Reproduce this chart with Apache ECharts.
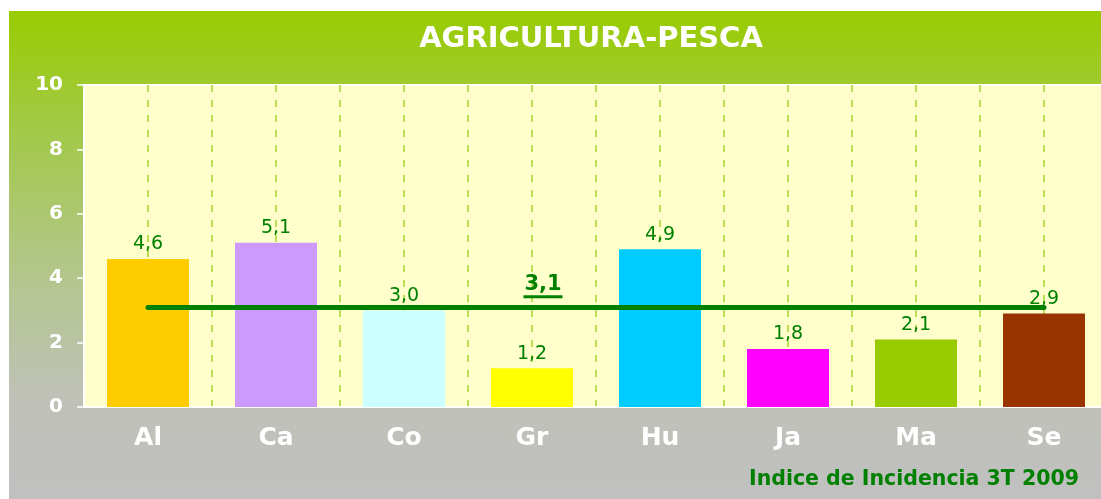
<!DOCTYPE html>
<html lang="es">
<head>
<meta charset="utf-8">
<title>Agricultura-Pesca</title>
<script src="https://cdn.jsdelivr.net/npm/echarts@6/dist/echarts.min.js"></script>
<style>
  html, body { margin: 0; padding: 0; background: #fff; overflow: hidden; }
  /* el grafico original sigue algo mas alla del borde derecho */
  #main {
    position: absolute;
    left: 9px;
    top: 11px;
    width: 1099px;
    height: 488px;
    background: linear-gradient(to bottom, #99cc00 0%, #a2c94a 25%, #b4c68e 55%, #bfc1b8 80%, #c0c0c0 100%);
  }
</style>
</head>
<body>
<div id="main"></div>
<script>
  // datos
  var categories = ['Al', 'Ca', 'Co', 'Gr', 'Hu', 'Ja', 'Ma', 'Se'];
  var values = [4.6, 5.1, 3.0, 1.2, 4.9, 1.8, 2.1, 2.9];
  var barColors = ['#ffcc00', '#cc99ff', '#ccffff', '#ffff00', '#00ccff', '#ff00ff', '#99cc00', '#993300'];
  var average = 3.1;
  var averageAt = 'Gr';
  var yTicks = { min: 0, max: 10, interval: 2 };

  function fmt(v) {
    return v.toFixed(1).replace('.', ',');
  }

  var green = '#008000';
  var chart = echarts.init(document.getElementById('main'), null, { renderer: 'canvas' });

  var option = {
    animation: false,
    title: [
      {
        text: 'AGRICULTURA-PESCA',
        left: 577,
        textAlign: 'center',
        top: 9,
        textStyle: { color: '#fff', fontSize: 29, fontWeight: 'bold', fontFamily: 'DejaVu Sans' }
      },
      {
        text: 'Indice de Incidencia 3T 2009',
        right: 24,
        bottom: 4,
        textStyle: { color: green, fontSize: 20.5, fontWeight: 'bold', fontFamily: 'DejaVu Sans' }
      }
    ],
    grid: {
      left: 75,
      top: 74,
      width: 1024,
      height: 322,
      show: true,
      backgroundColor: '#ffffcc',
      borderColor: '#ffffff',
      borderWidth: 2
    },
    xAxis: [
      {
        type: 'category',
        data: categories,
        axisLine: { lineStyle: { color: '#ffffff', width: 2 } },
        axisTick: { length: 9, lineStyle: { color: '#ffffff', width: 1.5 } },
        axisLabel: { color: '#fff', fontSize: 25, fontWeight: 'bold', fontFamily: 'DejaVu Sans', margin: 19 },
        splitLine: { show: false }
      },
      {
        // rejilla vertical cada media categoria
        type: 'value',
        min: 0,
        max: categories.length * 2,
        interval: 1,
        axisLine: { show: false },
        axisTick: { show: false },
        axisLabel: { show: false },
        splitLine: { show: true, showMinLine: false, lineStyle: { color: '#a8d22c', width: 1.5, type: [7, 8] } }
      }
    ],
    yAxis: {
      type: 'value',
      min: yTicks.min,
      max: yTicks.max,
      interval: yTicks.interval,
      axisLine: { show: false },
      axisTick: { show: true, length: 7, lineStyle: { color: '#ffffff', width: 1.5 } },
      axisLabel: { color: '#fff', fontSize: 20, fontWeight: 'bold', fontFamily: 'DejaVu Sans', margin: 21 },
      splitLine: { show: false }
    },
    series: [
      {
        type: 'bar',
        barWidth: 82,
        data: values.map(function (v, i) {
          return { value: v, itemStyle: { color: barColors[i] } };
        }),
        label: {
          show: true,
          position: 'top',
          distance: 5,
          color: green,
          fontSize: 19,
          fontFamily: 'DejaVu Sans',
          formatter: function (p) { return fmt(p.value); }
        },
        markLine: {
          silent: true,
          symbol: ['none', 'none'],
          lineStyle: { color: green, width: 5, type: 'solid', cap: 'round' },
          label: { show: false },
          data: [[
            { coord: [categories[0], average] },
            { coord: [categories[categories.length - 1], average] }
          ]]
        },
        markPoint: {
          silent: true,
          symbol: 'circle',
          symbolSize: 0,
          label: {
            show: true,
            position: 'top',
            distance: 9,
            offset: [11, 0],
            formatter: function () { return '{t|' + fmt(average) + '}\n{u|}'; },
            rich: {
              t: { color: green, fontSize: 21, fontWeight: 'bold', fontFamily: 'DejaVu Sans', lineHeight: 21, align: 'center' },
              u: { width: 39, height: 3, backgroundColor: green, align: 'center' }
            }
          },
          data: [{ coord: [averageAt, average] }]
        }
      }
    ]
  };

  chart.setOption(option);
</script>
</body>
</html>
